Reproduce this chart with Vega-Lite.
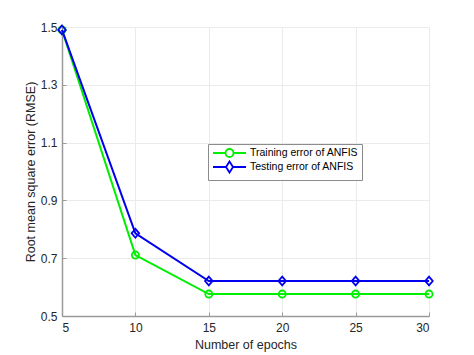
{
  "$schema": "https://vega.github.io/schema/vega-lite/v6.json",
  "width": 367,
  "height": 289,
  "autosize": {"type": "none"},
  "padding": {"left": 62, "top": 27, "right": 45, "bottom": 39},
  "background": "white",
  "config": {
    "view": {"stroke": null},
    "font": "Liberation Sans",
    "axis": {
      "domainColor": "#9a9a9a",
      "domainWidth": 1.5,
      "tickColor": "#9a9a9a",
      "tickSize": -4,
      "gridColor": "#ebebeb",
      "gridWidth": 1,
      "labelColor": "#262626",
      "labelFontSize": 12,
      "titleColor": "#262626",
      "titleFontSize": 12.5,
      "titleFontWeight": "normal",
      "labelFont": "Liberation Sans",
      "titleFont": "Liberation Sans"
    }
  },
  "data": {
    "values": [
      {"epochs": 5, "rmse": 1.49, "series": "Training error of ANFIS"},
      {"epochs": 10, "rmse": 0.711, "series": "Training error of ANFIS"},
      {"epochs": 15, "rmse": 0.576, "series": "Training error of ANFIS"},
      {"epochs": 20, "rmse": 0.576, "series": "Training error of ANFIS"},
      {"epochs": 25, "rmse": 0.576, "series": "Training error of ANFIS"},
      {"epochs": 30, "rmse": 0.576, "series": "Training error of ANFIS"},
      {"epochs": 5, "rmse": 1.49, "series": "Testing error of ANFIS"},
      {"epochs": 10, "rmse": 0.786, "series": "Testing error of ANFIS"},
      {"epochs": 15, "rmse": 0.621, "series": "Testing error of ANFIS"},
      {"epochs": 20, "rmse": 0.621, "series": "Testing error of ANFIS"},
      {"epochs": 25, "rmse": 0.621, "series": "Testing error of ANFIS"},
      {"epochs": 30, "rmse": 0.621, "series": "Testing error of ANFIS"}
    ]
  },
  "encoding": {
    "x": {
      "field": "epochs",
      "type": "quantitative",
      "scale": {"domain": [5, 30], "nice": false, "zero": false},
      "axis": {"values": [5, 10, 15, 20, 25, 30], "title": "Number of epochs", "titlePadding": 5, "labelPadding": 10}
    },
    "y": {
      "field": "rmse",
      "type": "quantitative",
      "scale": {"domain": [0.5, 1.5], "nice": false, "zero": false},
      "axis": {"values": [0.5, 0.7, 0.9, 1.1, 1.3, 1.5], "format": ".1f", "title": "Root mean square error (RMSE)", "titlePadding": 3, "labelPadding": 9}
    }
  },
  "layer": [
    {
      "transform": [{"filter": "datum.series == 'Training error of ANFIS'"}],
      "mark": {"type": "line", "strokeWidth": 2, "color": "#00ee00"}
    },
    {
      "transform": [{"filter": "datum.series == 'Testing error of ANFIS'"}],
      "mark": {"type": "line", "strokeWidth": 2, "color": "#0000ee"}
    },
    {
      "transform": [{"filter": "datum.series == 'Training error of ANFIS'"}],
      "mark": {"type": "point", "shape": "circle", "filled": false, "size": 50, "strokeWidth": 1.8, "opacity": 1, "color": "#00ee00"}
    },
    {
      "transform": [{"filter": "datum.series == 'Testing error of ANFIS'"}],
      "mark": {"type": "point", "shape": "M0,-1.05L0.9,0L0,1.05L-0.9,0Z", "filled": false, "size": 70, "strokeWidth": 1.8, "opacity": 1, "color": "#0000ee"}
    },
    {
      "mark": {"type": "point", "filled": false, "strokeWidth": 2, "size": 0, "opacity": 0},
      "encoding": {
        "color": {
          "field": "series",
          "type": "nominal",
          "scale": {"domain": ["Training error of ANFIS", "Testing error of ANFIS"], "range": ["#00ee00", "#0000ee"]},
          "legend": {
            "title": null,
            "orient": "none",
            "legendX": 146,
            "legendY": 117,
            "symbolSize": 100,
            "symbolStrokeWidth": 1.8,
            "symbolOpacity": 1,
            "strokeColor": "#8c8c8c",
            "fillColor": "white",
            "padding": 3,
            "rowPadding": -6,
            "labelFontSize": 10.5,
            "labelColor": "#000000",
            "labelFont": "Liberation Sans",
            "labelOffset": 14.5,
            "symbolOffset": 12.5
          }
        },
        "shape": {
          "field": "series",
          "type": "nominal",
          "scale": {
            "domain": ["Training error of ANFIS", "Testing error of ANFIS"],
            "range": [
              "M-3.3,0L-0.8,0M0.8,0L3.3,0M0.8,0A0.8,0.8,0,1,1,-0.8,0A0.8,0.8,0,1,1,0.8,0Z",
              "M-3.3,0L-0.7,0M0.7,0L3.3,0M0,-1.1L0.7,0L0,1.1L-0.7,0Z"
            ]
          },
          "legend": {
            "title": null,
            "orient": "none",
            "legendX": 146,
            "legendY": 117,
            "symbolSize": 100,
            "symbolStrokeWidth": 1.8,
            "symbolOpacity": 1,
            "strokeColor": "#8c8c8c",
            "fillColor": "white",
            "padding": 3,
            "rowPadding": -6,
            "labelFontSize": 10.5,
            "labelColor": "#000000",
            "labelFont": "Liberation Sans",
            "labelOffset": 14.5,
            "symbolOffset": 12.5
          }
        }
      }
    }
  ]
}
